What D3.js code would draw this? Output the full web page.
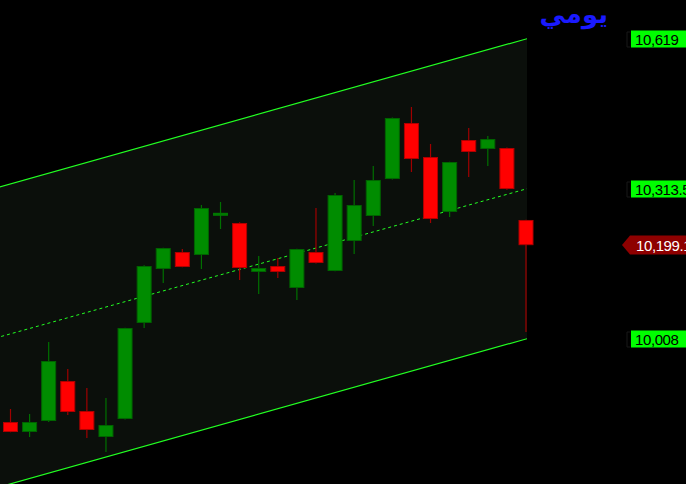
<!DOCTYPE html>
<html><head><meta charset="utf-8">
<script src="https://cdn.jsdelivr.net/npm/d3@7"></script>
<style>html,body{margin:0;padding:0;background:#000;overflow:hidden}</style>
</head><body>
<svg id="c" width="686" height="484"></svg>
<script>
// ---- data ----
const titleText = "يومي";
const opens  = [9839, 9818.6, 9841, 9922.5, 9861.4, 9808.4, 9845.1, 10040.6, 10150.6, 10185.2, 10179.1, 10262, 10244.3, 10144.5, 10156.7, 10111.9, 10185.2, 10146.5, 10207.6, 10258.5, 10333.9, 10447.9, 10378.7, 10266.7, 10413.3, 10395, 10397, 10250.4];
const highs  = [9865.4, 9855.3, 10001.9, 9946.9, 9908.2, 9887.8, 10031, 10158, 10194, 10191.3, 10280.9, 10287, 10246, 10177, 10173, 10192, 10274.8, 10305.4, 10331.8, 10360.3, 10459, 10480.5, 10405.1, 10369, 10437.7, 10421.4, 10398, 10251];
const lows   = [9818, 9808.4, 9839, 9853.2, 9806.4, 9777.9, 9844, 10030.4, 10122.1, 10154, 10150.6, 10232, 10128.2, 10099.6, 10132.2, 10087.4, 10162, 10146, 10181.1, 10238.1, 10333, 10348.1, 10244.3, 10256.5, 10337.9, 10360.3, 10312, 10022.3];
const closes = [9818.6, 9839, 9963.2, 9859.3, 9822.7, 9832.8, 10030.4, 10156.7, 10193.3, 10154.6, 10274.8, 10263, 10152.6, 10152.6, 10144.5, 10191.3, 10162.8, 10301.3, 10280.9, 10331.8, 10458.1, 10374.6, 10252.4, 10368.5, 10388.9, 10415.3, 10313.5, 10199.1];
const channelIdx    = [0, 27];
const channelUpper  = [10324, 10619];
const channelMiddle = [10018.5, 10313.5];
const channelLower  = [9713, 10008];
const axisValues = [10619, 10313.5, 10008];
const axisLabels = ["10,619", "10,313.5", "10,008"];
const lastValue = 10199.1;
const lastLabel = "10,199.1";

// ---- scales ----
const svg = d3.select("#c");
const x = d3.scaleLinear().domain([0, 27]).range([10.5, 526]);
const y = d3.scaleLinear().domain([10008, 10619]).range([339, 39]);
const bodyW = 15;
const plotRight = x(27) + 1;

svg.append("defs").append("clipPath").attr("id", "plot")
  .append("rect").attr("x", 0).attr("y", 0).attr("width", plotRight).attr("height", 484);

function ext(vals, i) { // value along channel line at index i
  const s = (vals[1] - vals[0]) / (channelIdx[1] - channelIdx[0]);
  return vals[0] + s * (i - channelIdx[0]);
}
const iL = -2, iR = 27 + (plotRight - x(27)) / (x(1) - x(0));

const g = svg.append("g").attr("clip-path", "url(#plot)");
// channel fill
const poly = [[x(iL), y(ext(channelUpper, iL))], [x(iR), y(ext(channelUpper, iR))],
              [x(iR), y(ext(channelLower, iR))], [x(iL), y(ext(channelLower, iL))]];
g.append("path").attr("d", "M" + poly.join("L") + "Z").attr("fill", "#0b0f0b");

// channel lines
[[channelUpper, null], [channelLower, null], [channelMiddle, "3,3"]].forEach(([vals, dash]) => {
  g.append("line")
    .attr("x1", x(iL)).attr("y1", y(ext(vals, iL)))
    .attr("x2", x(iR)).attr("y2", y(ext(vals, iR)))
    .attr("stroke", "#22ff22").attr("stroke-width", dash ? 1 : 1.2)
    .attr("stroke-dasharray", dash);
});

// candles
const cg = svg.append("g");
opens.forEach((o, i) => {
  const c = closes[i], up = c >= o;
  const cx = x(i);
  const wick = up ? "#007000" : "#a00000";
  cg.append("line").attr("x1", cx).attr("x2", cx)
    .attr("y1", y(highs[i])).attr("y2", y(lows[i]))
    .attr("stroke", wick).attr("stroke-width", 1.2);
  const top = y(Math.max(o, c)), bot = y(Math.min(o, c));
  const h = Math.max(bot - top, 1);
  if (h <= 2) {
    cg.append("rect").attr("x", cx - bodyW / 2).attr("y", top - 1)
      .attr("width", bodyW).attr("height", 3).attr("fill", up ? "#007800" : "#c00000");
  } else {
    cg.append("rect").attr("x", cx - bodyW / 2 + 0.5).attr("y", top + 0.5)
      .attr("width", bodyW - 1).attr("height", h - 1)
      .attr("fill", up ? "#008c00" : "#ff0000")
      .attr("stroke", up ? "#006400" : "#b00000").attr("stroke-width", 1);
  }
});

// right-side labels
const lab = svg.append("g").attr("font-family", "Liberation Sans, Arial, sans-serif")
  .attr("font-size", 15).attr("letter-spacing", "-0.4");
axisValues.forEach((v, i) => {
  const cy = Math.round(y(v));
  lab.append("path").attr("d", `M630,${cy - 7}H627V${cy + 8}H630`)
    .attr("fill", "none").attr("stroke", "#181818");
  lab.append("rect").attr("x", 631).attr("y", cy - 8.5).attr("width", 60).attr("height", 17)
    .attr("fill", "#00ff00");
  lab.append("text").attr("x", 635).attr("y", cy + 5.5).attr("fill", "#000").text(axisLabels[i]);
});
{
  const cy = Math.round(y(lastValue));
  lab.append("path").attr("d", `M622,${cy}L630,${cy - 9.5}H690V${cy + 9.5}H630Z`).attr("fill", "#8e0000");
  lab.append("text").attr("x", 636).attr("y", cy + 5.5).attr("fill", "#fff").text(lastLabel);
}

// title
svg.append("text").attr("x", 608).attr("y", 23).attr("text-anchor", "end")
  .attr("font-family", "DejaVu Sans, Tahoma, sans-serif").attr("font-weight", "bold")
  .attr("font-size", 26).attr("fill", "#1a1aff").text(titleText);
</script>
</body></html>
